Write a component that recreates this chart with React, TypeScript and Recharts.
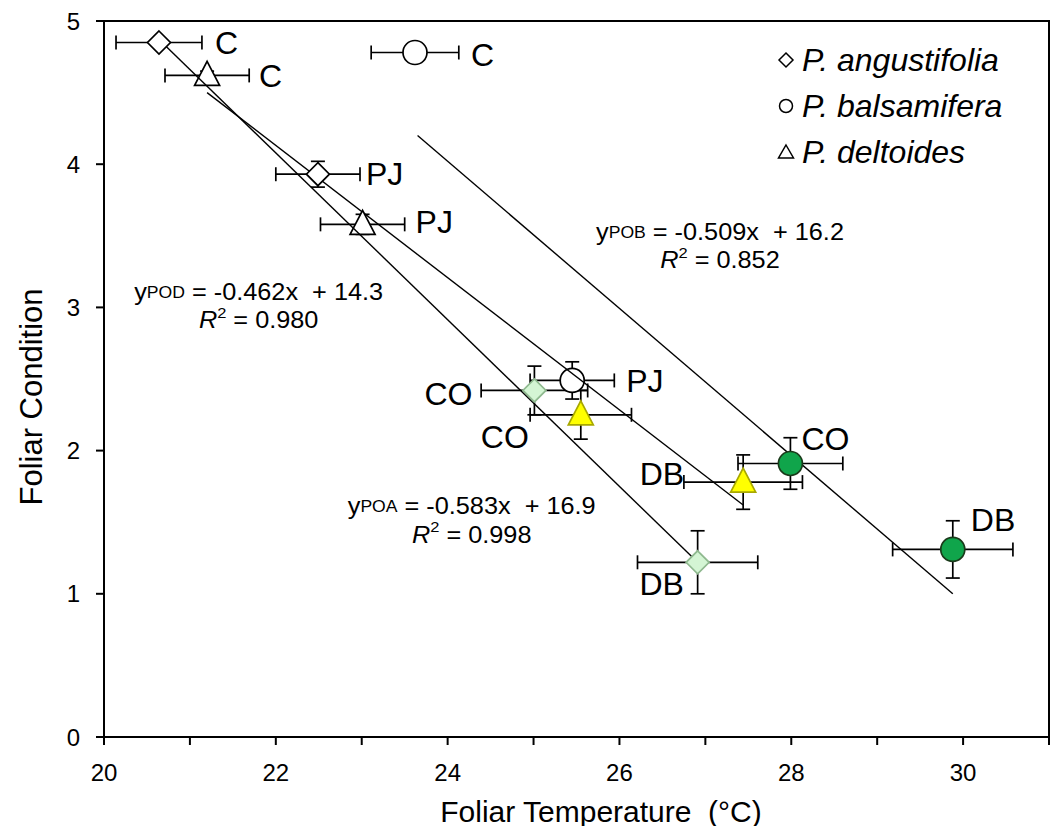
import React from 'react'
import { ScatterChart, Scatter, XAxis, YAxis, ErrorBar, ReferenceArea, ReferenceDot } from 'recharts'

// sites along the gradient
const sites = ['C', 'PJ', 'CO', 'DB']

// P. angustifolia
const angustifoliaX = [20.64, 22.49, 25.01, 26.91]
const angustifoliaY = [4.85, 3.93, 2.42, 1.22]
const angustifoliaXErr = [0.5, 0.49, 0.62, 0.7]
const angustifoliaYErr = [0.03, 0.09, 0.17, 0.22]

// P. balsamifera
const balsamiferaX = [23.62, 25.45, 27.99, 29.88]
const balsamiferaY = [4.78, 2.49, 1.91, 1.31]
const balsamiferaXErr = [0.51, 0.49, 0.61, 0.7]
const balsamiferaYErr = [0.02, 0.13, 0.18, 0.2]

// P. deltoides
const deltoidesX = [21.2, 23.01, 25.55, 27.44]
const deltoidesY = [4.62, 3.58, 2.25, 1.78]
const deltoidesXErr = [0.49, 0.49, 0.59, 0.69]
const deltoidesYErr = [0.03, 0.07, 0.17, 0.19]

// regression line end points
const poaLineX = [20.64, 26.91]
const poaLineY = [4.87, 1.22]
const pobLineX = [23.65, 29.88]
const pobLineY = [4.2, 1.0]
const podLineX = [21.2, 27.44]
const podLineY = [4.5, 1.62]

const xTicks = [20, 21, 22, 23, 24, 25, 26, 27, 28, 29, 30, 31]
const yTicks = [0, 1, 2, 3, 4, 5]

const FONT = '"Liberation Sans", Arial, sans-serif'

const build = (xs: number[], ys: number[], xe: number[], ye: number[]) =>
  sites.map((site, i) => ({ site, x: xs[i], y: ys[i], xErr: xe[i], yErr: ye[i] }))

const line = (xs: number[], ys: number[]) => xs.map((x, i) => ({ x, y: ys[i] }))

const angustifolia = build(angustifoliaX, angustifoliaY, angustifoliaXErr, angustifoliaYErr)
const balsamifera = build(balsamiferaX, balsamiferaY, balsamiferaXErr, balsamiferaYErr)
const deltoides = build(deltoidesX, deltoidesY, deltoidesXErr, deltoidesYErr)

// colour for the two disturbed sites, white otherwise
const filled = { CO: true, DB: true } as Record<string, boolean>
const speciesFill = { diamond: '#d4f5d4', circle: '#10a54b', triangle: '#ffff00' } as Record<string, string>
const speciesStroke = { diamond: '#8fb98f', circle: '#1a3a1a', triangle: '#a8a800' } as Record<string, string>

// label offsets (px) from marker centre
const labelPos: Record<string, { dx: number; dy: number; anchor: string }> = {
  'diamond-C': { dx: 56, dy: 1, anchor: 'start' },
  'diamond-PJ': { dx: 48, dy: 0, anchor: 'start' },
  'diamond-CO': { dx: -62, dy: 4, anchor: 'end' },
  'diamond-DB': { dx: -36, dy: 22, anchor: 'middle' },
  'circle-C': { dx: 56, dy: 2, anchor: 'start' },
  'circle-PJ': { dx: 54, dy: 1, anchor: 'start' },
  'circle-CO': { dx: 11, dy: -24, anchor: 'start' },
  'circle-DB': { dx: 18, dy: -29, anchor: 'start' },
  'triangle-C': { dx: 52, dy: 1, anchor: 'start' },
  'triangle-PJ': { dx: 53, dy: -2, anchor: 'start' },
  'triangle-CO': { dx: -52, dy: 22, anchor: 'end' },
  'triangle-DB': { dx: -59, dy: -8, anchor: 'end' },
}

function marker(kind: string) {
  return (props: any) => {
    const { cx, cy, payload } = props
    const on = filled[payload.site]
    const fill = on ? speciesFill[kind] : '#fff'
    const stroke = on ? speciesStroke[kind] : '#000'
    const lp = labelPos[`${kind}-${payload.site}`]
    let sym
    if (kind === 'diamond') {
      sym = <path d={`M${cx},${cy - 11.5}L${cx + 11.5},${cy}L${cx},${cy + 11.5}L${cx - 11.5},${cy}Z`} fill={fill} stroke={stroke} strokeWidth={1.7} />
    } else if (kind === 'circle') {
      sym = <circle cx={cx} cy={cy} r={12} fill={fill} stroke={stroke} strokeWidth={1.7} />
    } else {
      sym = <path d={`M${cx},${cy - 14}L${cx + 12.5},${cy + 10}L${cx - 12.5},${cy + 10}Z`} fill={fill} stroke={stroke} strokeWidth={1.7} />
    }
    return (
      <g>
        {sym}
        <text x={cx + lp.dx} y={cy + lp.dy} textAnchor={lp.anchor as any} dominantBaseline="central" fontSize={32} fontFamily={FONT} fill="#000">
          {payload.site}
        </text>
      </g>
    )
  }
}

function equation(sub: string, eq: string, r2: string) {
  return (props: any) => {
    const { cx, cy } = props
    return (
      <g fontFamily={FONT} fill="#000">
        <g transform={`translate(${cx} ${cy}) scale(1.1 1)`}>
          <text x={0} y={0} textAnchor="middle" dominantBaseline="central" fontSize={23} xmlSpace="preserve">
            y<tspan fontSize={16}>{sub}</tspan>{' = ' + eq}
          </text>
        </g>
        <g transform={`translate(${cx} ${cy + 28}) scale(1.1 1)`}>
          <text x={0} y={0} textAnchor="middle" dominantBaseline="central" fontSize={23}>
            <tspan fontStyle="italic">R</tspan>
            <tspan fontSize={15} dy={-8}>2</tspan>
            <tspan dy={8}>{' = ' + r2}</tspan>
          </text>
        </g>
      </g>
    )
  }
}

const XTick = (props: any) => {
  const { x, y, payload } = props
  if (payload.value % 2 !== 0 || payload.value >= 31) return <g />
  return (
    <text x={x} y={y + 27} textAnchor="middle" dominantBaseline="central" fontSize={24} fontFamily={FONT} fill="#000">
      {payload.value}
    </text>
  )
}

const YTick = (props: any) => {
  const { x, y, payload } = props
  return (
    <text x={x} y={y} textAnchor="end" dominantBaseline="central" fontSize={24} fontFamily={FONT} fill="#000">
      {payload.value}
    </text>
  )
}

const legendItems = [
  { kind: 'diamond', name: 'P. angustifolia' },
  { kind: 'circle', name: 'P. balsamifera' },
  { kind: 'triangle', name: 'P. deltoides' },
]

// titles and legend drawn on top of the chart
function Overlay() {
  return (
    <svg width={1052} height={826} style={{ position: 'absolute', left: 0, top: 0, pointerEvents: 'none' }}>
      <text x={601} y={811} textAnchor="middle" dominantBaseline="central" fontSize={30} fontFamily={FONT} fill="#000" xmlSpace="preserve">
        {'Foliar Temperature  (°C)'}
      </text>
      <text x={31} y={397} transform="rotate(-90 31 397)" textAnchor="middle" dominantBaseline="central" fontSize={31} fontFamily={FONT} fill="#000">
        Foliar Condition
      </text>
      {legendItems.map((it, i) => {
        const cy = 60 + i * 46
        const cx = 786
        return (
          <g key={it.kind}>
            {it.kind === 'diamond' && <path d={`M${cx},${cy - 7}L${cx + 7},${cy}L${cx},${cy + 7}L${cx - 7},${cy}Z`} fill="#fff" stroke="#000" strokeWidth={1.5} />}
            {it.kind === 'circle' && <circle cx={cx} cy={cy} r={6.5} fill="#fff" stroke="#000" strokeWidth={1.5} />}
            {it.kind === 'triangle' && <path d={`M${cx},${cy - 7}L${cx + 7.5},${cy + 6}L${cx - 7.5},${cy + 6}Z`} fill="#fff" stroke="#000" strokeWidth={1.5} />}
            <text x={802} y={cy} dominantBaseline="central" fontSize={32} fontStyle="italic" fontFamily={FONT} fill="#000">
              {it.name}
            </text>
          </g>
        )
      })}
    </svg>
  )
}

const lineStyle = { stroke: '#000', strokeWidth: 1.4 }
const noDot = () => <g />

export default function App() {
  return (
    <div style={{ position: 'absolute', left: 0, top: 0, width: 1052, height: 826, background: '#fff' }}>
      <ScatterChart width={1052} height={826} margin={{ top: 21, right: 3, bottom: 0, left: 0 }}>
        <XAxis
          type="number"
          dataKey="x"
          domain={[20, 31]}
          ticks={xTicks}
          height={89}
          tickSize={8}
          tickMargin={0}
          tick={<XTick />}
          stroke="#000"
          strokeWidth={2}
          allowDataOverflow
        />
        <YAxis
          type="number"
          dataKey="y"
          domain={[0, 5]}
          ticks={yTicks}
          width={104}
          tickSize={8}
          tickMargin={16}
          tick={<YTick />}
          stroke="#000"
          strokeWidth={2}
          allowDataOverflow
        />
        <ReferenceArea x1={20} x2={31} y1={0} y2={5} fill="none" stroke="#000" strokeWidth={2} ifOverflow="visible" />

        {/* stacking: each trend line sits under its own species' markers */}
        <Scatter data={line(pobLineX, pobLineY)} line={lineStyle} shape={noDot} isAnimationActive={false} />
        <Scatter data={balsamifera} shape={marker('circle')} isAnimationActive={false}>
          <ErrorBar dataKey="xErr" direction="x" width={7} stroke="#000" strokeWidth={1.7} />
          <ErrorBar dataKey="yErr" direction="y" width={7} stroke="#000" strokeWidth={1.7} />
        </Scatter>
        <Scatter data={line(podLineX, podLineY)} line={lineStyle} shape={noDot} isAnimationActive={false} />
        <Scatter data={deltoides} shape={marker('triangle')} isAnimationActive={false}>
          <ErrorBar dataKey="xErr" direction="x" width={7} stroke="#000" strokeWidth={1.7} />
          <ErrorBar dataKey="yErr" direction="y" width={7} stroke="#000" strokeWidth={1.7} />
        </Scatter>
        <Scatter data={line(poaLineX, poaLineY)} line={lineStyle} shape={noDot} isAnimationActive={false} />
        <Scatter data={angustifolia} shape={marker('diamond')} isAnimationActive={false}>
          <ErrorBar dataKey="xErr" direction="x" width={7} stroke="#000" strokeWidth={1.7} />
          <ErrorBar dataKey="yErr" direction="y" width={7} stroke="#000" strokeWidth={1.7} />
        </Scatter>

        <ReferenceDot x={21.8} y={3.108} r={0} ifOverflow="visible" shape={equation('POD', '-0.462x  + 14.3', '0.980')} />
        <ReferenceDot x={27.17} y={3.527} r={0} ifOverflow="visible" shape={equation('POB', '-0.509x  + 16.2', '0.852')} />
        <ReferenceDot x={24.28} y={1.613} r={0} ifOverflow="visible" shape={equation('POA', '-0.583x  + 16.9', '0.998')} />
      </ScatterChart>
      <Overlay />
    </div>
  )
}
